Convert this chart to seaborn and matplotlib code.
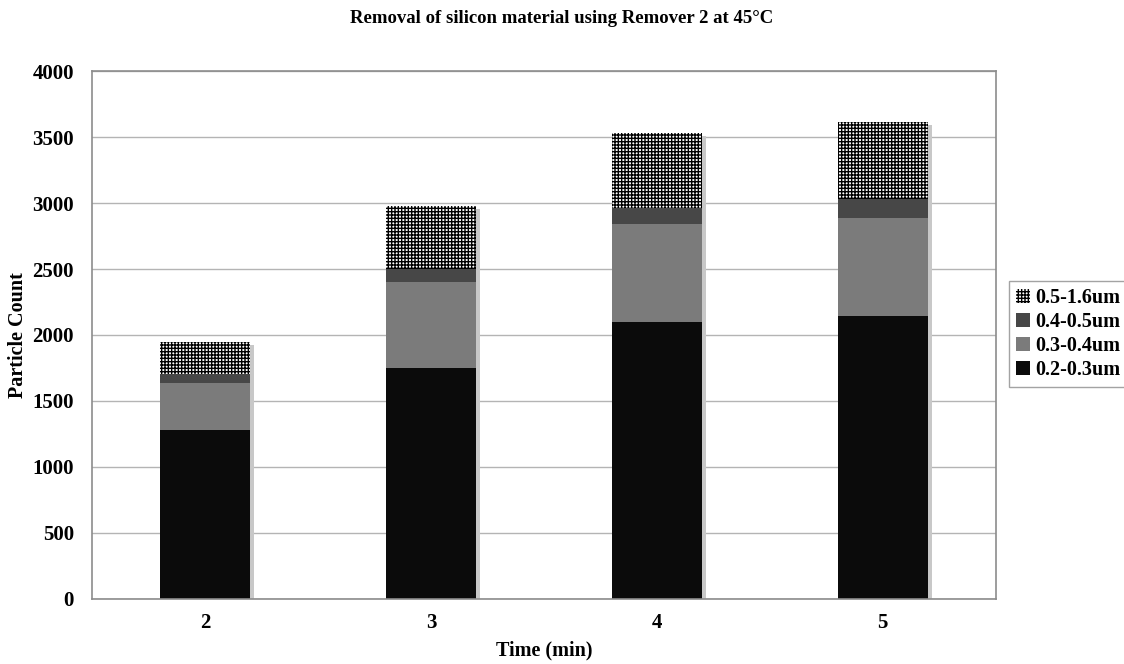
import numpy as np
import pandas as pd
import seaborn as sns
import matplotlib
matplotlib.use("Agg")
import matplotlib.pyplot as plt
import matplotlib.transforms as mtransforms

times = ["2", "3", "4", "5"]
size_02_03 = [1280, 1750, 2100, 2146]
size_03_04 = [356, 652, 741, 743]
size_04_05 = [69, 98, 124, 139]
size_05_16 = [245, 480, 568, 588]

layers = [
    ("0.2-0.3um", size_02_03),
    ("0.3-0.4um", size_03_04),
    ("0.4-0.5um", size_04_05),
    ("0.5-1.6um", size_05_16),
]
colors = {"0.2-0.3um": "#0b0b0b", "0.3-0.4um": "#7b7b7b",
          "0.4-0.5um": "#474747", "0.5-1.6um": "white"}

sns.set_style("white")
plt.rcParams['font.family'] = ['Liberation Serif', 'DejaVu Serif']
plt.rcParams['font.weight'] = 'bold'
plt.rcParams['hatch.linewidth'] = 1.0
for k in ['text.color', 'axes.labelcolor', 'xtick.labelcolor', 'ytick.labelcolor']:
    plt.rcParams[k] = 'black'

fig = plt.figure(figsize=(11.24, 6.64), dpi=100)
ax = fig.add_axes([0.0819, 0.098, 0.804, 0.795])

# cumulative heights so the stack can be drawn back to front
cum = np.cumsum([vals for _, vals in layers], axis=0)
df = pd.DataFrame({"time": times})

# shadow behind the stacks
shadow_off = mtransforms.offset_copy(ax.transData, fig=fig, x=4, y=-3, units='dots')
n0 = len(ax.patches)
sns.barplot(x=df["time"], y=cum[-1], color="#c8c8c8", width=0.4, ax=ax,
            saturation=1, linewidth=0)
for p in ax.patches[n0:]:
    p.set_transform(shadow_off)
    p.set_zorder(1)

handles = []
for i in range(len(layers) - 1, -1, -1):
    name = layers[i][0]
    n0 = len(ax.patches)
    sns.barplot(x=df["time"], y=cum[i], color=colors[name], width=0.4, ax=ax,
                saturation=1, linewidth=0)
    for p in ax.patches[n0:]:
        p.set_zorder(2)
        if name == "0.5-1.6um":
            p.set_hatch("+++++")
            p.set_edgecolor("black")
            p.set_linewidth(0)
    handles.append(ax.patches[n0])

ax.set_ylim(0, 4000)
ax.set_xlim(-0.5, 3.5)
ax.set_yticks(np.arange(0, 4001, 500))
ax.yaxis.grid(True, color="#b4b4b4", linewidth=1)
ax.set_axisbelow(True)
for s in ax.spines.values():
    s.set_color("#8c8c8c")
    s.set_linewidth(1.2)

ax.set_xticks(np.arange(len(times)))
ax.set_xticklabels(times)
ax.set_xticks(np.arange(-0.5, len(times), 1), minor=True)
ax.tick_params(axis='x', which='major', length=0, pad=10, labelsize=15)
ax.tick_params(axis='x', which='minor', length=5, color="#8c8c8c", direction='out')
ax.tick_params(axis='y', length=5, color="#8c8c8c", direction='out', pad=8, labelsize=15)
for lab in ax.get_xticklabels() + ax.get_yticklabels():
    lab.set_fontweight('bold')

ax.set_xlabel("Time (min)", fontsize=14.5, fontweight='bold')
ax.set_ylabel("Particle Count", fontsize=14.5, fontweight='bold')
ax.xaxis.set_label_coords(0.5, -0.078)
ax.yaxis.set_label_coords(-0.071, 0.5)
fig.suptitle("Removal of silicon material using Remover 2 at 45\u00b0C",
             fontsize=13.5, fontweight='bold', y=0.985)

leg = ax.legend(handles, [name for name, _ in reversed(layers)],
                loc='center left', bbox_to_anchor=(1.003, 0.502),
                frameon=True, fancybox=False, edgecolor="#8c8c8c",
                handlelength=0.7, handleheight=0.7, handletextpad=0.3,
                borderpad=0.35, labelspacing=0.2,
                prop={'family': 'Liberation Serif', 'weight': 'bold', 'size': 14.5})

fig.savefig("out.png", dpi=100)
